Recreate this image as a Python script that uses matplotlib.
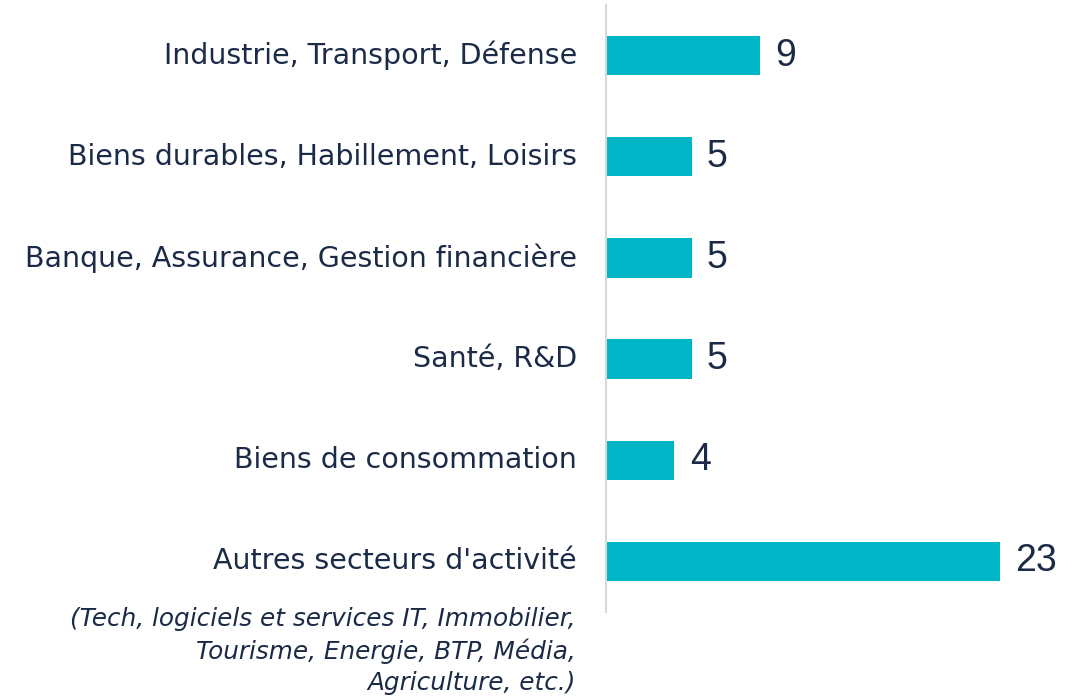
import matplotlib
matplotlib.use('Agg')
import matplotlib.pyplot as plt

# Data
categories = [
    "Industrie, Transport, Défense",
    "Biens durables, Habillement, Loisirs",
    "Banque, Assurance, Gestion financière",
    "Santé, R&D",
    "Biens de consommation",
    "Autres secteurs d'activité",
]
values = [9, 5, 5, 5, 4, 23]
note = "(Tech, logiciels et services IT, Immobilier,\nTourisme, Energie, BTP, Média,\nAgriculture, etc.)"

BAR = '#00B5C5'
TXT = '#1B2A47'

fig = plt.figure(figsize=(10.81, 6.98), dpi=100)
ax = fig.add_axes([606 / 1081, 86 / 698, 462 / 1081, 607 / 698])

pos = list(range(len(categories)))
ax.barh(pos, values, height=0.39, color=BAR)
ax.set_ylim(5.5, -0.5)
ax.set_xlim(0, 27)

for p, v in zip(pos, values):
    ax.annotate(str(v), xy=(v, p), xytext=(11, 0), textcoords='offset points',
                ha='left', va='center', fontsize=27, color=TXT,
                family='Liberation Sans')

ax.set_yticks(pos)
ax.set_yticklabels(categories, fontsize=20.5, color=TXT, family='DejaVu Sans',
                   va='center')
ax.tick_params(axis='y', length=0, pad=21)
ax.set_xticks([])

for s in ['top', 'right', 'bottom']:
    ax.spines[s].set_visible(False)
ax.spines['left'].set_color('#D9D9D9')
ax.spines['left'].set_linewidth(1.5)

ax.annotate(note, xy=(0, pos[-1]), xytext=(-22, -33), textcoords='offset points',
            ha='right', va='top', fontsize=17.8, style='italic', color=TXT,
            family='DejaVu Sans', linespacing=1.36, multialignment='right',
            annotation_clip=False)

fig.savefig('out.png', dpi=100)
